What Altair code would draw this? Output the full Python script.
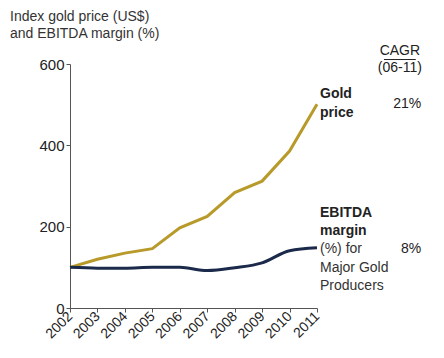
import altair as alt
import pandas as pd

years = [2002, 2003, 2004, 2005, 2006, 2007, 2008, 2009, 2010, 2011]
gold = [100, 120, 135, 146, 197, 225, 284, 312, 386, 501]
ebitda = [100, 98, 98, 100, 100, 92, 99, 111, 141, 148]

GOLD_C = "#B89A2A"
NAVY_C = "#1B2A4A"
FONT = "Liberation Sans"

df = pd.DataFrame({
    "year": years * 2,
    "value": gold + ebitda,
    "series": ["Gold price"] * len(years) + ["EBITDA margin"] * len(years),
})

# annotation labels (positions in data units)
bold_text = ["Gold", "price", "EBITDA", "margin"]
bold_y = [526, 480, 234, 189]
norm_text = ["(%) for", "Major Gold", "Producers"]
norm_y = [145, 98, 54]
bold_df = pd.DataFrame({"year": [2011] * len(bold_text), "value": bold_y, "text": bold_text})
norm_df = pd.DataFrame({"year": [2011] * len(norm_text), "value": norm_y, "text": norm_text})

cagr_text = ["CAGR", "(06-11)"]
cagr_y = [632, 590]
cagr_df = pd.DataFrame({"year": [2014.02] * 2, "value": cagr_y, "text": cagr_text})

pct_text = ["21%", "8%"]
pct_y = [502, 145]
pct_df = pd.DataFrame({"year": [2014.8] * 2, "value": pct_y, "text": pct_text})

ul_df = pd.DataFrame({"year": [2013.44], "year2": [2014.6], "value": [611]})

xs = alt.Scale(domain=[2002, 2011], nice=False, zero=False)
ys = alt.Scale(domain=[0, 600], nice=False)

x_axis = alt.Axis(values=years, format="d", labelAngle=-45, labelAlign="right",
                  labelBaseline="middle", labelFontSize=14, labelOverlap=False,
                  labelPadding=2)
y_axis = alt.Axis(values=[0, 200, 400, 600], labelFontSize=15, labelPadding=2)

X = alt.X("year:Q", scale=xs, title=None, axis=x_axis)
Y = alt.Y("value:Q", scale=ys, title=None, axis=y_axis)

base = alt.Chart(df)

gold_line = base.transform_filter(alt.datum.series == "Gold price").mark_line(
    color=GOLD_C, strokeWidth=3
).encode(x=X, y=Y)

navy_line = base.transform_filter(alt.datum.series == "EBITDA margin").mark_line(
    color=NAVY_C, strokeWidth=3, interpolate="monotone"
).encode(x=X, y=Y)

bold_labels = alt.Chart(bold_df).mark_text(
    align="left", baseline="middle", dx=3, fontSize=14, font=FONT, color="#222", fontWeight="bold"
).encode(x=X, y=Y, text="text:N")

norm_labels = alt.Chart(norm_df).mark_text(
    align="left", baseline="middle", dx=3, fontSize=14, font=FONT, color="#333"
).encode(x=X, y=Y, text="text:N")

cagr = alt.Chart(cagr_df).mark_text(
    align="center", baseline="middle", fontSize=14, font=FONT, color="#222"
).encode(x=X, y=Y, text="text:N")

pct = alt.Chart(pct_df).mark_text(
    align="right", baseline="middle", fontSize=14, font=FONT, color="#222"
).encode(x=X, y=Y, text="text:N")

ul = alt.Chart(ul_df).mark_rule(color="#222", strokeWidth=1).encode(
    x=X, x2="year2:Q", y=Y
)

chart = alt.layer(gold_line, navy_line, bold_labels, norm_labels, cagr, pct, ul).properties(
    width=247, height=244,
    padding={"left": 62, "top": 56, "right": 119, "bottom": 50},
    autosize=alt.AutoSizeParams(type="none"),
    title=alt.TitleParams(
        text=["Index gold price (US$)", "and EBITDA margin (%)"],
        anchor="start", frame="group", dx=-60, offset=3, fontSize=14,
        fontWeight="normal", font=FONT, color="#333", lineHeight=17,
    ),
).configure_view(stroke=None).configure_axis(
    labelFont=FONT, labelColor="#222", tickSize=4, domainColor="#555",
    tickColor="#555", grid=False, labelOverlap=False,
)

chart.save("out.html", embed_options={"renderer": "svg", "actions": False})
